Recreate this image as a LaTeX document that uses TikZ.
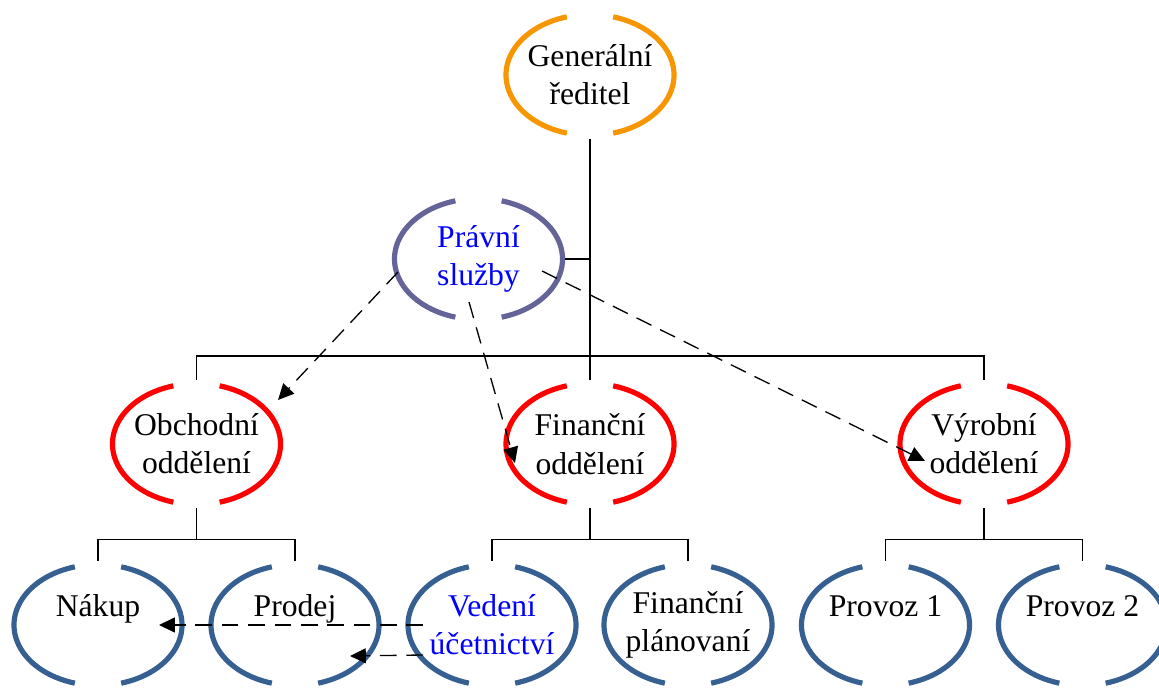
\documentclass[tikz,border=0pt]{standalone}
\usepackage{fontspec}
\setmainfont{Liberation Serif}
\usetikzlibrary{shapes.geometric,arrows.meta,calc}
\definecolor{gencol}{RGB}{247,150,0}
\definecolor{lawcol}{RGB}{100,100,152}
\definecolor{deptcol}{RGB}{255,0,0}
\definecolor{teamcol}{RGB}{54,96,146}
\definecolor{bluetext}{RGB}{0,0,255}

\begin{document}
\begin{tikzpicture}[
    unit/.style={ellipse,minimum width=3.46cm,minimum height=2.56cm,inner sep=0pt,
      align=center,font=\fontsize{18}{21.8}\selectfont},
    link/.style={line width=0.75pt},
    flow/.style={line width=0.75pt,dash pattern=on 9.5pt off 5.5pt,
      -{Triangle[length=9pt,width=8.5pt]}}]
    \useasboundingbox (0,0) rectangle (23.18,13.74);
    \clip (0,0) rectangle (23.18,13.74);
    \node[unit] (gen)     at (11.80,12.24) {Generální\\ředitel};
    \node[unit,text=bluetext] (pravni) at (9.57,8.56) {Právní\\služby};
    \node[unit] (obch)    at (3.93,4.86)   {Obchodní\\oddělení};
    \node[unit] (fin)     at (11.80,4.86)  {Finanční\\oddělení};
    \node[unit] (vyr)     at (19.68,4.86)  {Výrobní\\oddělení};
    \node[unit] (nakup)   at (1.96,1.24)   {Nákup\\\mbox{}};
    \node[unit] (prodej)  at (5.90,1.24)   {Prodej\\\mbox{}};
    \node[unit,text=bluetext] (vedeni) at (9.84,1.24) {Vedení\\účetnictví};
    \node[unit] (plan)    at (13.76,1.24)  {Finanční\\plánovaní};
    \node[unit] (provoz1) at (17.71,1.24)  {Provoz 1\\\mbox{}};
    \node[unit] (provoz2) at (21.65,1.24)  {Provoz 2\\\mbox{}};
    \foreach \n/\c in {gen/gencol,pravni/lawcol,obch/deptcol,fin/deptcol,vyr/deptcol,
        nakup/teamcol,prodej/teamcol,vedeni/teamcol,plan/teamcol,provoz1/teamcol,provoz2/teamcol} {
      \draw[\c,line width=2.95pt] (\n.center) ++(106:1.68 and 1.21)
        arc[start angle=106,end angle=254,x radius=1.68,y radius=1.21];
      \draw[\c,line width=2.95pt] (\n.center) ++(-74:1.68 and 1.21)
        arc[start angle=-74,end angle=74,x radius=1.68,y radius=1.21];
    }
    \coordinate (mid) at (11.80,6.62);
    \draw[link] (gen.south) -- (fin.north);
    \draw[link] (obch.north) |- (mid) -| (vyr.north);
    \draw[link] (pravni.east) -- (pravni.east -| gen.south);
    \foreach \up/\l/\r in {obch/nakup/prodej,fin/vedeni/plan,vyr/provoz1/provoz2} {
      \draw[link] (\up.south) -- ++(0,-0.62) coordinate (bar);
      \draw[link] (\l.north) |- (bar) -| (\r.north);
    }
    \draw[flow] ($(pravni)+(-1.61,-0.26)$) -- ($(obch)+(1.63,0.88)$);
    \draw[flow] ($(pravni)+(-0.19,-0.86)$) -- ($(fin)+(-1.50,-0.38)$);
    \draw[flow] ($(pravni)+(1.27,-0.24)$) -- ($(vyr)+(-1.18,-0.34)$);
    \draw[flow] ($(vedeni)+(-1.38,0)$) -- ($(nakup)+(1.22,0)$);
    \draw[flow] ($(vedeni)+(-1.38,-0.60)$) -- ($(prodej)+(1.10,-0.62)$);
\end{tikzpicture}
\end{document}
